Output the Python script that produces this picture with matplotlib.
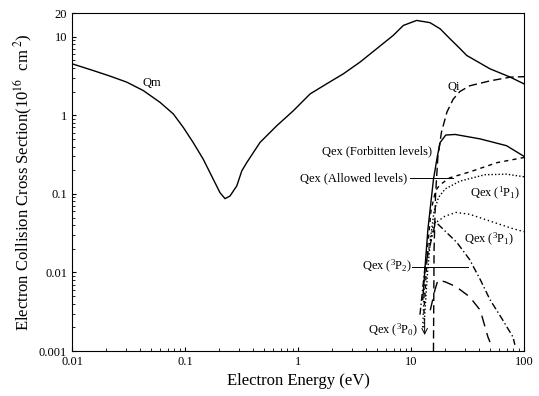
import matplotlib
matplotlib.use('Agg')
import matplotlib.pyplot as plt
from matplotlib.ticker import FixedLocator, FixedFormatter, LogLocator, NullFormatter

plt.rcParams['font.family'] = ['Liberation Serif', 'DejaVu Serif']
plt.rcParams['mathtext.fontset'] = 'stix'

# momentum transfer
qm_e = [0.01, 0.0154, 0.0217, 0.0305, 0.0428, 0.0601, 0.0788, 0.0966, 0.118, 0.145,
        0.178, 0.204, 0.226, 0.250, 0.287, 0.318, 0.352, 0.461, 0.648, 0.908, 1.28,
        1.79, 2.52, 3.54, 4.97, 6.97, 8.55, 11.2, 14.7, 18.1, 22.1, 27.2, 31.1, 50,
        75, 100]
qm_v = [4.52, 3.71, 3.15, 2.64, 2.06, 1.46, 1.04, 0.70, 0.451, 0.276,
        0.153, 0.1035, 0.0869, 0.0938, 0.126, 0.196, 0.25, 0.451, 0.735, 1.14, 1.87,
        2.51, 3.37, 4.75, 7.03, 10.4, 13.9, 16.1, 15.1, 12.6, 9.42, 7.03, 5.77, 3.9,
        3.07, 2.51]

# ionization
qi_e = [15.8, 16.0, 16.5, 17.3, 18.6, 20.8, 23.6, 27, 33, 50, 75, 100]
qi_v = [0.001, 0.02, 0.1, 0.3, 0.61, 1.1, 1.6, 2.0, 2.37, 2.74, 3.05, 3.1]

# excitation, forbidden levels
qf_e = [12.7, 13.3, 14.1, 15.8, 17.1, 18.1, 20.3, 24.6, 41, 70, 100]
qf_v = [0.0045, 0.0115, 0.035, 0.153, 0.30, 0.45, 0.56, 0.57, 0.50, 0.41, 0.30]

# excitation, allowed levels
qa_e = [13.0, 14.0, 15.0, 16.5, 18, 22, 33, 58, 100]
qa_v = [0.003, 0.02, 0.06, 0.11, 0.13, 0.16, 0.19, 0.25, 0.29]

# 1P1
q11_e = [13, 14, 15, 16, 17.5, 20, 27, 45, 70, 100]
q11_v = [0.002, 0.01, 0.03, 0.06, 0.09, 0.115, 0.145, 0.175, 0.178, 0.165]

# 3P1
q31_e = [12.7, 13.3, 15.8, 20, 25, 33, 50, 80, 100]
q31_v = [0.002, 0.011, 0.041, 0.052, 0.058, 0.055, 0.045, 0.036, 0.033]

# 3P2
q32_e = [12.0, 13.3, 16.5, 25.5, 33, 41, 50, 64.6, 80, 83]
q32_v = [0.0029, 0.0118, 0.044, 0.024, 0.0146, 0.0081, 0.0045, 0.0025, 0.0015, 0.0012]

# 3P0
q30_e = [14.8, 16.3, 17.3, 20, 25, 33, 41, 48, 50]
q30_v = [0.0033, 0.006, 0.008, 0.0076, 0.0066, 0.0049, 0.0033, 0.0015, 0.0013]

fig = plt.figure(figsize=(5.39, 3.96), dpi=100)
ax = fig.add_axes([0.1336, 0.1136, 0.8386, 0.8535])

lw = 1.0
ax.plot(qm_e, qm_v, 'k-', lw=lw)
ax.plot(qi_e, qi_v, 'k', lw=lw, dashes=(6, 3))
ax.plot(qf_e, qf_v, 'k-', lw=lw)
ax.plot(qa_e, qa_v, 'k', lw=lw, dashes=(3, 3))
ax.plot(q11_e, q11_v, 'k', lw=lw, dashes=(1, 1.5))
ax.plot(q31_e, q31_v, 'k', lw=lw, dashes=(1, 2))
ax.plot(q32_e, q32_v, 'k', lw=lw, dashes=(5, 2, 1, 2))
ax.plot(q30_e, q30_v, 'k', lw=lw, dashes=(8, 5))

ax.set_xscale('log')
ax.set_yscale('log')
ax.set_xlim(0.01, 100)
ax.set_ylim(0.001, 20)

ax.xaxis.set_major_locator(FixedLocator([0.01, 0.1, 1, 10, 100]))
ax.xaxis.set_major_formatter(FixedFormatter(['0.01', '0.1', '1', '10', '100']))
ax.xaxis.set_minor_locator(LogLocator(base=10, subs=range(2, 10)))
ax.xaxis.set_minor_formatter(NullFormatter())
ax.yaxis.set_major_locator(FixedLocator([0.001, 0.01, 0.1, 1, 10, 20]))
ax.yaxis.set_major_formatter(FixedFormatter(['0.001', '0.01', '0.1', '1', '10', '20']))
ax.yaxis.set_minor_locator(LogLocator(base=10, subs=range(2, 10)))
ax.yaxis.set_minor_formatter(NullFormatter())
ax.tick_params(which='both', direction='in', labelsize=9, top=False, right=False)
ax.tick_params(which='major', length=3)
ax.tick_params(which='minor', length=2)

ax.set_xlabel('Electron Energy (eV)', fontsize=12, labelpad=4)
ax.set_ylabel(r'Electron Collision Cross Section(10$^{16}$  cm$^{\ 2}$)', fontsize=12, labelpad=3)

fs = 9
ax.text(0.051, 2.55, 'Qm', fontsize=fs, ha='center', va='center')
ax.text(24, 2.3, 'Qi', fontsize=fs, ha='center', va='center')
ax.text(15.3, 0.35, 'Qex (Forbitten levels)', fontsize=fs, ha='right', va='center')
ax.text(9.2, 0.158, 'Qex (Allowed levels)', fontsize=fs, ha='right', va='center')
ax.plot([9.8, 23.5], [0.158, 0.158], 'k-', lw=0.7)
ax.text(33, 0.101, r'Qex ($\mathregular{^1P_1}$)', fontsize=fs, ha='left', va='center')
ax.text(29.7, 0.026, r'Qex ($\mathregular{^3P_1}$)', fontsize=fs, ha='left', va='center')
ax.text(10.2, 0.0118, r'Qex ($\mathregular{^3P_2}$)', fontsize=fs, ha='right', va='center')
ax.plot([10.3, 31.9], [0.0118, 0.0118], 'k-', lw=0.7)
ax.text(11.5, 0.00185, r'Qex ($\mathregular{^3P_0}$)', fontsize=fs, ha='right', va='center')
ax.annotate('', xy=(13.2, 0.0016), xytext=(13.2, 0.0026),
            arrowprops=dict(arrowstyle='->', lw=0.7, color='k', shrinkA=0, shrinkB=0))

fig.savefig('out.png', dpi=100)
